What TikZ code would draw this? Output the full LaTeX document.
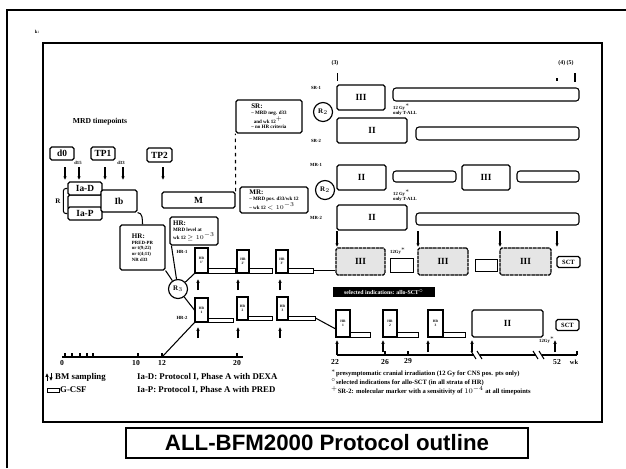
\documentclass[tikz,border=0pt]{standalone}
\usepackage{fontspec}
\usepackage{amsmath}
\setmainfont{Liberation Serif}
\newfontfamily\titlefont{Liberation Sans}
\usetikzlibrary{arrows.meta,positioning}
\tikzset{
  sz/.style 2 args={minimum width=#1*0.03cm, minimum height=#2*0.03cm}
}

\begin{document}
\begin{tikzpicture}[
  x=0.03cm, y=-0.03cm,
  box/.style={rectangle, rounded corners=1.5pt, draw, line width=1pt, fill=white, inner sep=0pt, font=\bfseries\fontsize{8}{9}\selectfont},
  note/.style={rectangle, rounded corners=1.5pt, draw, line width=1pt, fill=white, inner sep=1.5pt, align=left, font=\bfseries\fontsize{4.3}{5}\selectfont},
  blk/.style={rectangle, draw, line width=1pt, fill=white, inner sep=0pt, align=center, font=\bfseries\fontsize{3}{3.4}\selectfont},
  gcsf/.style={rectangle, draw, line width=0.8pt, inner sep=0pt, fill=white},
  bar/.style={rectangle, draw, line width=0.9pt, rounded corners=2.5pt, inner sep=0pt, fill=white},
  shade/.style={box, fill=black!10, dash pattern=on 3pt off 0.6pt},
  rnd/.style={circle, draw, line width=1pt, fill=white, inner sep=0pt, minimum size=0.57cm, font=\bfseries\fontsize{6}{7}\selectfont},
  lbl/.style={inner sep=0pt, font=\bfseries\fontsize{4}{5}\selectfont},
  legend/.style={inner sep=0pt, anchor=west, font=\bfseries\fontsize{7.5}{8}\selectfont},
  tick/.style={inner sep=0pt, font=\bfseries\fontsize{6.5}{7}\selectfont},
  foot/.style={inner sep=0pt, anchor=west, font=\bfseries\fontsize{5.6}{6}\selectfont},
  bm/.style={-{Latex[length=3.2pt,width=3pt]}, line width=1.1pt},
  line/.style={line width=0.9pt}
]
  \useasboundingbox (0,0) rectangle (626,468);
  \draw[line width=2.2pt] (7,468) -- (7,10) -- (626,10);
  \draw[line width=1.3pt] (43,43) rectangle (602,422);
  \node[lbl] (kc) at (37,32) {k:};

  \node[font=\bfseries\fontsize{6.5}{7}\selectfont] (mrd) at (100,122) {MRD timepoints};
  \node[box, sz={24}{13}] (tpzero) at (62,153.5) {d0};
  \node[box, sz={24}{13}] (tpone) at (103,153.5) {TP1};
  \node[box, sz={25}{14}] (tptwo) at (159.5,155) {TP2};
  \node[lbl] (dfifteen) at (78,163) {d15};
  \node[lbl] (dthirty) at (121,163) {d33};
  \foreach \x in {65,79,105,123,163}
    \draw[bm] (\x,167) -- (\x,180);

  \node[box, sz={36}{14}] (band) at (86,202) {};
  \node[box, sz={34}{13}] (iad) at (85,188.5) {Ia-D};
  \node[box, sz={34}{13}] (iap) at (85,213.5) {Ia-P};
  \node[box, sz={36}{22}] (ib) at (119,201) {Ib};
  \node[font=\bfseries\fontsize{6}{7}\selectfont] (rand) at (58,201) {R};
  \draw[line, rounded corners=2pt] (iad.west) -- ++(-4,0) |- (iap.west);

  \node[box, sz={73}{16}] (m) at (198.5,200) {M};
  \node[note, sz={66}{33}] (sr) at (269,116.5) {{\fontsize{6}{6}\selectfont SR:}\\-- MRD neg. d33\\\ \ and wk 12$^+$\\-- no HR criteria};
  \node[note, sz={68}{26}] (mr) at (274,200) {{\fontsize{6}{6}\selectfont MR:}\\-- MRD pos. d33/wk 12\\-- wk 12 $<10^{-3}$};
  \draw[line, dashed] (m.north east) -- (sr.south west);
  \node[note, sz={45}{45}, font=\bfseries\fontsize{4.1}{4.9}\selectfont] (hra) at (142.5,247.5) {{\fontsize{6}{6}\selectfont HR:}\\PRED-PR\\or t(9;22)\\or t(4;11)\\NR d33};
  \node[note, sz={48}{28}] (hrb) at (194,231) {{\fontsize{6}{6}\selectfont HR:}\\MRD level at\\wk 12 $\geq10^{-3}$};

  \node[rnd] (rsr) at (323,112) {R$_2$};
  \node[rnd] (rmr) at (325,190) {R$_2$};
  \node[rnd] (rhr) at (178,289) {R$_3$};
  \node[lbl] (srone) at (316,88) {SR-1};
  \node[lbl] (srtwo) at (316,141) {SR-2};
  \node[lbl] (mrone) at (316,165) {MR-1};
  \node[lbl] (mrtwo) at (316,218) {MR-2};
  \node[lbl] (hrone) at (182,252) {HR-1};
  \node[lbl] (hrtwo) at (182,318) {HR-2};

  \node[lbl, font=\bfseries\fontsize{5}{6}\selectfont] (three) at (335,63) {(3)};
  \node[lbl, font=\bfseries\fontsize{5}{6}\selectfont] (fourfive) at (566,63) {(4)\ (5)};
  \draw[line width=0.8pt] (337,73) -- (337,81);
  \draw[line width=1.2pt] (557,78) -- (557,81);
  \draw[line width=1pt] (575,73) -- (575,82);

  \node[box, sz={48}{25}] (sroneiii) at (361,97.5) {III};
  \node[bar, sz={186}{13}] (sronem) at (486,94.5) {};
  \node[box, sz={70}{25}] (srtwoii) at (372,130.5) {II};
  \node[bar, sz={163}{13}] (srtwom) at (497.5,133.5) {};
  \node[lbl, align=left] (gya) at (405,110) {12 Gy$^*$\\only T-ALL};

  \node[box, sz={49}{25}] (mroneii) at (361.5,177.5) {II};
  \node[bar, sz={63}{11}] (mronea) at (424.5,176.5) {};
  \node[box, sz={48}{25}] (mroneiii) at (486,177.5) {III};
  \node[bar, sz={62}{11}] (mroneb) at (548,176.5) {};
  \node[lbl, align=left] (gyb) at (405,196) {12 Gy$^*$\\only T-ALL};
  \node[box, sz={70}{25}] (mrtwoii) at (372,217.5) {II};
  \node[bar, sz={163}{12}] (mrtwom) at (497.5,219) {};

  \node[blk, sz={13}{25}] (hb1) at (201.5,260.5) {HR\\1'};
  \node[gcsf, sz={27}{5}] (g1) at (221.5,270.5) {};
  \node[blk, sz={12}{23}] (hb2) at (243,261.5) {HR\\2'};
  \node[gcsf, sz={23}{5}] (g2) at (260.5,270.5) {};
  \node[blk, sz={12}{23}] (hb3) at (282,261.5) {HR\\3'};
  \node[gcsf, sz={25}{5}] (g3) at (300.5,270.5) {};
  \node[shade, sz={49}{27}] (pa) at (360.5,261.5) {III};
  \node[gcsf, sz={23}{14}] (sa) at (401.5,265) {};
  \node[lbl] (gyc) at (398,251) {12Gy$^*$};
  \node[shade, sz={50}{27}] (pb) at (443,261.5) {III};
  \node[gcsf, sz={22}{12}] (sb) at (486,265) {};
  \node[shade, sz={51}{27}] (pc) at (525.5,261.5) {III};
  \node[box, sz={23}{11}, font=\bfseries\fontsize{5.5}{6}\selectfont] (scta) at (568.5,262) {SCT};
  \draw[line] (g3.east) -- (g3.east -| pa.west);
  \foreach \x in {337,418,500,557}
    \draw[bm] (\x,231) -- (\x,247);

  \node[fill=black, text=white, inner sep=0pt, sz={102}{10}, font=\bfseries\fontsize{5}{6}\selectfont] (sctbar) at (384,292) {selected indications: allo-SCT$^\circ$};

  \node[blk, sz={13}{24}] (lb1) at (201.5,310) {HR\\1};
  \node[gcsf, sz={25}{4}] (lg1) at (220.5,320) {};
  \node[blk, sz={11}{23}] (lb2) at (242.5,308.5) {HR\\2};
  \node[gcsf, sz={24}{4}] (lg2) at (260,318) {};
  \node[blk, sz={11}{23}] (lb3) at (282.5,308.5) {HR\\3};
  \node[gcsf, sz={27}{4}] (lg3) at (301.5,318) {};
  \node[blk, sz={14}{27}] (lb4) at (343,323.5) {HR\\1};
  \node[gcsf, sz={20}{5}] (lg4) at (360,334.5) {};
  \node[blk, sz={14}{27}] (lb5) at (390,323.5) {HR\\2};
  \node[gcsf, sz={21}{5}] (lg5) at (407.5,334.5) {};
  \node[blk, sz={15}{27}] (lb6) at (435.5,323.5) {HR\\3};
  \node[gcsf, sz={22}{5}] (lg6) at (454,334.5) {};
  \node[box, sz={71}{27}] (lii) at (507.5,323.5) {II};
  \node[box, sz={23}{11}, font=\bfseries\fontsize{5.5}{6}\selectfont] (sctb) at (567.5,325) {SCT};
  \node[lbl] (gyd) at (547,340) {12Gy$^*$};
  \draw[line] (lg3.east) -- (lb4.215);

  \draw[line] (hra.south east) -- (rhr);
  \draw[line] ([xshift=0.06cm]hrb.south west) -- (rhr);
  \draw[line] (ib.south east) to[out=0,in=90] (hra.north);
  \draw[line] (rhr) -- (hb1.south west);
  \draw[line] (rhr) -- (lb1.west);
  \foreach \x in {198,238,280} {
    \draw[bm] (\x,290) -- (\x,279);
    \draw[bm] (\x,338) -- (\x,327);
  }
  \foreach \x in {337,383,428,472,555}
    \draw[bm] (\x,352) -- (\x,340);

  \coordinate (wtwelve) at (162,357);
  \draw[line] (lb1.south west) -- (wtwelve);
  \draw[line] (62,357) -- (243,357);
  \foreach \x in {65,72,80,87,93,138,162,237}
    \draw[line] (\x,357) -- (\x,353);
  \node[tick] (wzero) at (62,363) {0};
  \node[tick] (wten) at (136,363) {10};
  \node[tick] (wtw) at (162,363) {12};
  \node[tick] (wtwenty) at (237,363) {20};

  \draw[line] (337,355) -- (474,355);
  \draw[line] (480,355) -- (536,355);
  \draw[line] (542,355) -- (577,355);
  \foreach \x in {471,477,533,539}
    \draw[line] (\x,351) -- (\x+5,359);
  \foreach \x in {337,385,408,577}
    \draw[line] (\x,355) -- (\x,351);
  \node[tick] (wtt) at (335,362) {22};
  \node[tick] (wts) at (385,362) {26};
  \node[tick] (wtn) at (408,361.5) {29};
  \node[tick] (wft) at (557,362) {52};
  \node[tick, font=\bfseries\fontsize{5.5}{6}\selectfont] (wk) at (574,362) {wk};

  \draw[bm, line width=0.7pt] (47,381) -- (47,373);
  \draw[bm, line width=0.7pt] (51,373) -- (51,381);
  \node[legend] (bmtext) at (55,377) {BM sampling};
  \node[gcsf, sz={12}{4}] (gkey) at (53,390) {};
  \node[legend] (gtext) at (60,390) {G-CSF};
  \node[legend] (iadtext) at (137,377) {Ia-D: Protocol I, Phase A with DEXA};
  \node[legend] (iaptext) at (137,390) {Ia-P: Protocol I, Phase A with PRED};

  \node[foot] (fa) at (331,373.5) {$^*$presymptomatic cranial irradiation (12 Gy for CNS pos. pts only)};
  \node[foot] (fb) at (331,382) {$^\circ$selected indications for allo-SCT (in all strata of HR)};
  \node[foot] (fc) at (331,391) {$^+$SR-2: molecular marker with a sensitivity of $10^{-4}$ at all timepoints};

  \node[box, sz={402}{30}, rounded corners=0pt, line width=1.2pt, font=\titlefont\bfseries\fontsize{19}{22}\selectfont] (title) at (327,443) {ALL-BFM2000 Protocol outline};
\end{tikzpicture}
\end{document}
